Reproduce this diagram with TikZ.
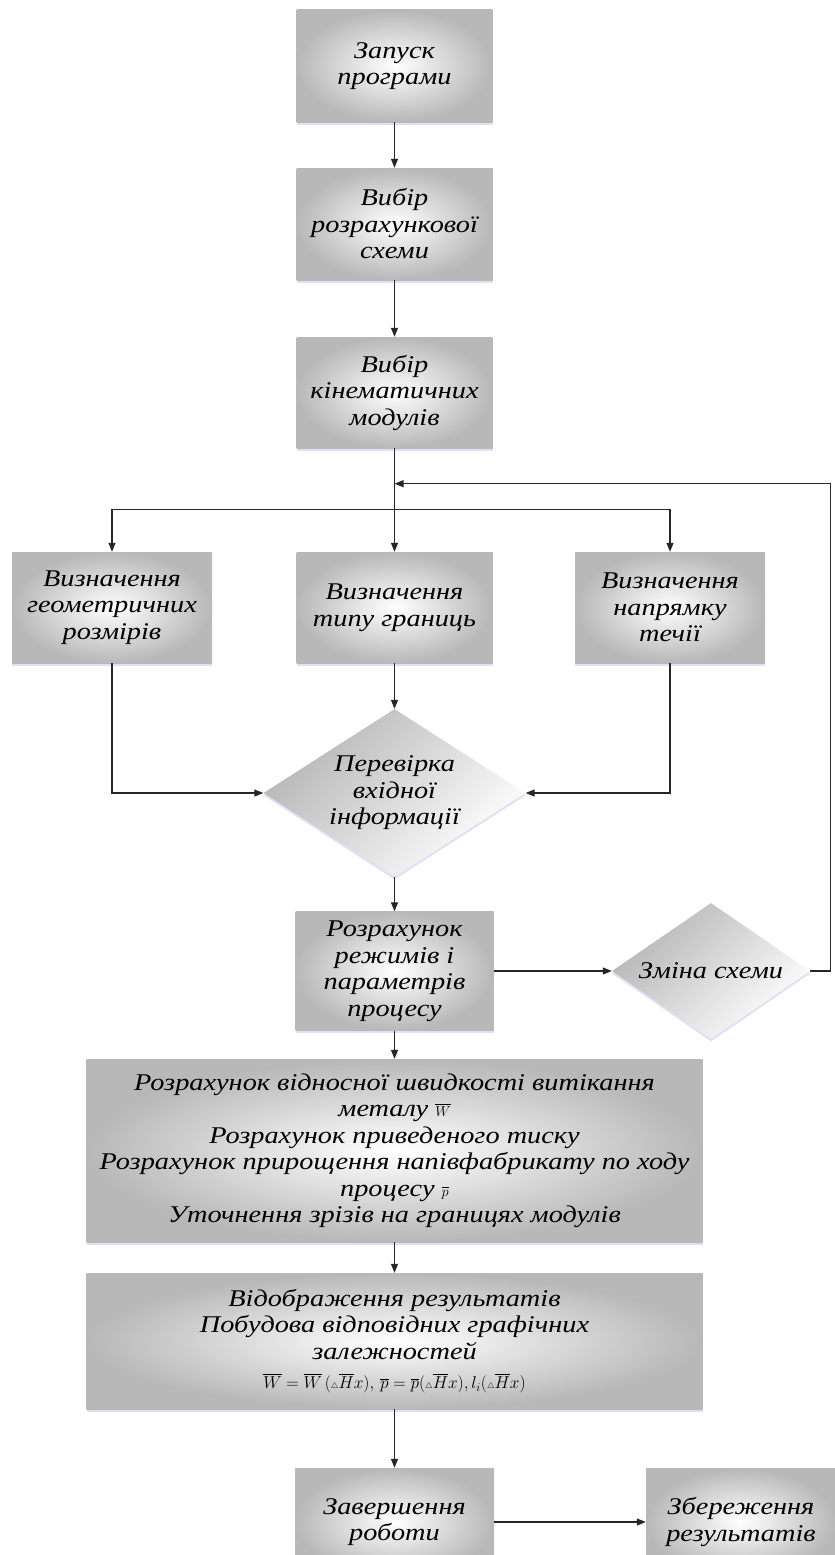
\documentclass[tikz,border=0pt]{standalone}
\usepackage{amssymb}
\usepackage{fontspec}
\setmainfont{Liberation Serif}[FakeStretch=1.18]
\usetikzlibrary{arrows.meta,shapes.geometric,calc,shadows}
\newcommand\boxfont{\fontsize{24}{26.5}\selectfont\itshape}
\newcommand\mathfont{\fontsize{17}{20}\selectfont}
\newcommand\tri{{\scriptscriptstyle\triangle}}
\begin{document}
\begin{tikzpicture}[x=1pt,y=-1pt,
  stepbox/.style={rectangle, inner sep=0pt, align=center, font=\boxfont,
    inner color=white, outer color=gray!56,
    drop shadow={shadow xshift=0pt, shadow yshift=-2.5pt, fill=cyan!25!blue!20, opacity=0.6}},
  decide/.style={diamond, inner sep=0pt, top color=gray!58, bottom color=white,
    shading angle=45,
    drop shadow={shadow xshift=0pt, shadow yshift=-2.5pt, fill=cyan!25!blue!20, opacity=0.6}},
  dlabel/.style={font=\boxfont, align=center},
  arr/.style={-{Triangle[length=9pt,width=7pt]}, line width=1.1pt, draw=black!85},
  ln/.style={line width=1.1pt, draw=black!85}]
\useasboundingbox (0,0) rectangle (835,1555);
\fill[white] (0,0) rectangle (835,1555);

\node[stepbox, minimum width=196pt, minimum height=112pt] (b1) at (394.5,66) {Запуск\\програми};
\node[stepbox, minimum width=196pt, minimum height=112pt] (b2) at (394.5,224) {Вибір\\розрахункової\\схеми};
\node[stepbox, minimum width=196pt, minimum height=111pt] (b3) at (394.5,392.5) {Вибір\\кінематичних\\модулів};

\node[stepbox, minimum width=200pt, minimum height=111pt] (g1) at (112,607.5) {Визначення\\геометричних\\розмірів};
\node[stepbox, minimum width=196pt, minimum height=111pt] (g2) at (394.5,607.5) {Визначення\\типу границь};
\node[stepbox, minimum width=190pt, minimum height=111pt] (g3) at (670,607.5) {Визначення\\напрямку\\течії};

\node[decide, minimum width=262pt, minimum height=168pt,
  label={[dlabel]center:Перевірка\\вхідної\\інформації}] (d1) at (394.5,793) {};

\node[stepbox, minimum width=198pt, minimum height=119pt] (r) at (394.5,971) {Розрахунок\\режимів і\\параметрів\\процесу};
\node[decide, minimum width=198pt, minimum height=136pt,
  label={[dlabel]center:Зміна схеми}] (d2) at (711,971) {};

\node[stepbox, minimum width=616pt, minimum height=183pt] (c1) at (394.5,1150.5)
  {Розрахунок відносної швидкості витікання\\металу {\fontsize{15}{15}\selectfont$\overline{W}$}\\Розрахунок приведеного тиску\\Розрахунок прирощення напівфабрикату по ходу\\процесу {\fontsize{15}{15}\selectfont$\overline{p}$}\\Уточнення зрізів на границях модулів};
\node[stepbox, minimum width=616pt, minimum height=136pt] (c2) at (394.5,1341)
  {Відображення результатів\\Побудова відповідних графічних\\залежностей\\[3pt]
   {\mathfont$\overline{W}=\overline{W}\,(\tri\overline{H}x),\,\overline{p}=\overline{p}(\tri\overline{H}x),l_i(\tri\overline{H}x)$}};

\node[stepbox, minimum width=199pt, minimum height=108pt] (f) at (394.5,1522) {Завершення\\роботи};
\node[stepbox, minimum width=190pt, minimum height=108pt] (s) at (741,1522) {Збереження\\результатів};

% connectors
\draw[arr] (b1.south) -- (b2.north);
\draw[arr] (b2.south) -- (b3.north);
\coordinate (j) at ($(b3.south)+(0,61.5)$);
\coordinate (fb) at ($(b3.south)+(0,35.5)$);
\draw[arr] (b3.south) -- (g2.north);
\draw[arr] (j) -| (g1.north);
\draw[arr] (j) -| (g3.north);
\draw[arr] (d2.east) -- ++(20,0) |- (fb);
\draw[arr] (g1.south) |- (d1.west);
\draw[arr] (g2.south) -- (d1.north);
\draw[arr] (g3.south) |- (d1.east);
\draw[arr] (d1.south) -- (r.north);
\draw[arr] (r.east) -- (d2.west);
\draw[arr] (r.south) -- (c1.north);
\draw[arr] (c1.south) -- (c2.north);
\draw[arr] (c2.south) -- (f.north);
\draw[arr] (f.east) -- (s.west);
\end{tikzpicture}
\end{document}
